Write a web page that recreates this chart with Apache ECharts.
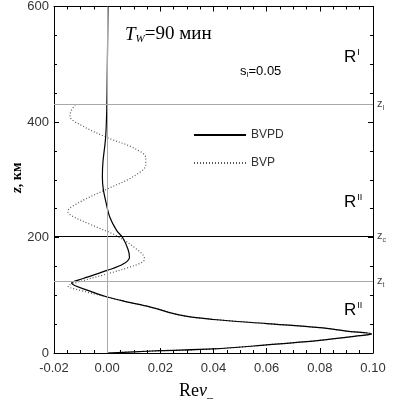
<!DOCTYPE html>
<html>
<head>
<meta charset="utf-8">
<script src="https://cdn.jsdelivr.net/npm/echarts@6/dist/echarts.min.js"></script>
<style>
  html, body {margin: 0; padding: 0; background: #fff;}
  #chart {width: 394px; height: 400px;}
</style>
</head>
<body>
<div id="chart"></div>
<script>
// BVPD (solid) profile: Re v_ against height z, km
var zBVPD = [0, 2, 4, 7, 14, 22, 30, 33, 38, 44, 51, 58, 65, 80, 89, 97, 108, 121, 129, 143, 154, 166, 180, 200, 212, 235, 262, 285, 305, 330, 372, 414, 470, 600];
var reBVPD = [0, 0.01, 0.02, 0.04, 0.06, 0.08, 0.095, 0.0995, 0.09, 0.08, 0.06, 0.04, 0.028, 0.016, 0.007, 0, -0.007, -0.0134, -0.009, 0, 0.006, 0.0084, 0.0078, 0.0058, 0.0036, 0.001, -0.0005, -0.0015, -0.0018, -0.0016, -0.0006, -0.0002, 0, 0.0003];

// BVP (dotted) profile, ends at z_I
var zBVP = [0, 2, 4, 7, 14, 22, 30, 33, 38, 44, 51, 58, 65, 80, 89, 97, 106, 116, 124, 137, 148, 158, 164, 180, 203, 222, 238, 245, 262, 284, 306, 326, 338, 355, 373, 395, 410, 420, 430];
var reBVP = [0, 0.01, 0.02, 0.04, 0.06, 0.08, 0.095, 0.0995, 0.09, 0.08, 0.06, 0.04, 0.028, 0.016, 0.007, 0, -0.008, -0.0147, -0.01, 0, 0.008, 0.0135, 0.014, 0.011, 0.0035, -0.006, -0.0135, -0.0148, -0.01, 0, 0.01, 0.0145, 0.0145, 0.01, 0, -0.01, -0.014, -0.0135, -0.012];

// reference heights
var zI = 431, zC = 203, zT = 124;

var xTicks = [-0.02, 0.00, 0.02, 0.04, 0.06, 0.08, 0.10];
var yTicks = [0, 200, 400, 600];

function pairs(xs, zs) {
    return zs.map(function (z, i) { return [xs[i], z]; });
}

var sans = 'Liberation Sans';
var serif = 'Liberation Serif';

var myChart = echarts.init(document.getElementById('chart'), null, {renderer: 'canvas'});

function range(kind) {
    var ticks = kind == 'x' ? xTicks : yTicks;
    return {min: ticks[0], max: ticks[ticks.length - 1], interval: ticks[1] - ticks[0]};
}

// frame axis: line + labels
function frameAxis(kind, pos, showLabel) {
    var r = range(kind);
    return {
        type: 'value', min: r.min, max: r.max, interval: r.interval,
        position: pos,
        axisLine: {show: true, onZero: false, lineStyle: {color: '#000', width: 1}},
        axisTick: {show: false},
        minorTick: {show: false},
        splitLine: {show: false},
        axisLabel: {
            show: showLabel,
            margin: kind == 'x' ? 9 : 5,
            color: '#333', fontFamily: sans, fontSize: 13,
            formatter: function (v) { return kind == 'x' ? v.toFixed(2) : String(v); }
        }
    };
}

// tick-only axis pushed into the plot so its outward ticks end on the frame line
function tickAxis(kind, pos, major) {
    var r = range(kind);
    var len = major ? 5 : 3;
    return {
        type: 'value', min: r.min, max: r.max, interval: r.interval,
        position: pos,
        offset: -len,
        axisLine: {show: false, onZero: false},
        axisTick: {show: major, inside: false, length: len, lineStyle: {color: '#000', width: 1}},
        minorTick: {show: !major, splitNumber: 4, length: len, lineStyle: {color: '#000', width: 1}},
        splitLine: {show: false},
        axisLabel: {show: false}
    };
}

var zLabel = function (sub) {
    return {
        show: true, position: 'end', distance: 4,
        formatter: '{a|z}{b|' + sub + '}',
        rich: {
            a: {fontFamily: sans, fontSize: 11, color: '#444'},
            b: {fontFamily: sans, fontSize: 7, color: '#444', padding: [8, 0, 0, 0]}
        }
    };
};

var rLabel = function (sup, top) {
    return {
        type: 'text', left: 344, top: top,
        style: {
            text: '{a|R}{b|' + sup + '}',
            rich: {
                a: {fontFamily: sans, fontSize: 17, color: '#666'},
                b: {fontFamily: sans, fontSize: 9, color: '#666', padding: [0, 0, 9, 1]}
            }
        }
    };
};

var option = {
    animation: false,
    backgroundColor: '#fff',
    grid: {left: 54, right: 21, top: 5, bottom: 47},
    legend: {
        orient: 'vertical',
        left: 188,
        top: 124,
        itemWidth: 52,
        itemHeight: 10,
        itemGap: 16,
        itemStyle: {opacity: 0},
        textStyle: {fontFamily: sans, fontSize: 12, color: '#333'},
        data: ['BVPD', 'BVP']
    },
    xAxis: [
        frameAxis('x', 'bottom', true), frameAxis('x', 'top', false),
        tickAxis('x', 'bottom', true), tickAxis('x', 'bottom', false),
        tickAxis('x', 'top', true), tickAxis('x', 'top', false)
    ],
    yAxis: [
        frameAxis('y', 'left', true), frameAxis('y', 'right', false),
        tickAxis('y', 'left', true), tickAxis('y', 'left', false),
        tickAxis('y', 'right', true), tickAxis('y', 'right', false)
    ],
    series: [
        {
            name: 'BVPD',
            type: 'line',
            data: pairs(reBVPD, zBVPD),
            showSymbol: false,
            symbol: 'none',
            smooth: 0.35,
            z: 4,
            lineStyle: {color: '#000', width: 1.2},
            itemStyle: {color: '#000'},
            markLine: {
                silent: true,
                symbol: 'none',
                animation: false,
                data: [
                    {yAxis: zI, lineStyle: {color: '#aaa', width: 1, type: 'solid'}, label: zLabel('I')},
                    {yAxis: zC, lineStyle: {color: '#000', width: 1, type: 'solid'}, label: zLabel('c')},
                    {yAxis: zT, lineStyle: {color: '#aaa', width: 1, type: 'solid'}, label: zLabel('t')},
                    {xAxis: 0, lineStyle: {color: '#aaa', width: 1, type: 'solid'}, label: {show: false}}
                ]
            }
        },
        {
            name: 'BVP',
            type: 'line',
            data: pairs(reBVP, zBVP),
            showSymbol: false,
            symbol: 'none',
            smooth: 0.35,
            z: 3,
            lineStyle: {color: '#555', width: 1.2, type: [1, 2]},
            itemStyle: {color: '#555'}
        }
    ],
    graphic: [
        {
            type: 'text', left: 125, top: 25,
            style: {
                text: '{i|T}{s|W}{n|=90 мин}',
                rich: {
                    i: {fontFamily: serif, fontStyle: 'italic', fontSize: 19, color: '#111'},
                    s: {fontFamily: serif, fontStyle: 'italic', fontSize: 11, color: '#111', padding: [9, 0, 0, 0]},
                    n: {fontFamily: serif, fontSize: 19, color: '#111'}
                }
            }
        },
        {
            type: 'text', left: 240, top: 65,
            style: {
                text: '{a|s}{b|I}{a|=0.05}',
                rich: {
                    a: {fontFamily: sans, fontSize: 13, color: '#444'},
                    b: {fontFamily: sans, fontSize: 7, color: '#444', padding: [7, 0, 0, 0]}
                }
            }
        },
        rLabel('I', 48),
        rLabel('II', 193),
        rLabel('II', 301),
        {
            type: 'text', x: 10, y: 193, rotation: Math.PI / 2,
            style: {
                text: '{i|z}{n|, км}',
                rich: {
                    i: {fontFamily: serif, fontStyle: 'italic', fontWeight: 'bold', fontSize: 15, color: '#111'},
                    n: {fontFamily: serif, fontWeight: 'bold', fontSize: 14, color: '#111'}
                }
            }
        },
        {
            type: 'text', left: 179, top: 382,
            style: {
                text: '{n|Re}{i|v}{s|_}',
                rich: {
                    n: {fontFamily: serif, fontSize: 18, color: '#111'},
                    i: {fontFamily: serif, fontStyle: 'italic', fontSize: 18, color: '#111'},
                    s: {fontFamily: serif, fontSize: 12, color: '#111', padding: [6, 0, 0, 0]}
                }
            }
        }
    ]
};

if (option && typeof option === "object") {
    myChart.setOption(option, true);
}
</script>
</body>
</html>
